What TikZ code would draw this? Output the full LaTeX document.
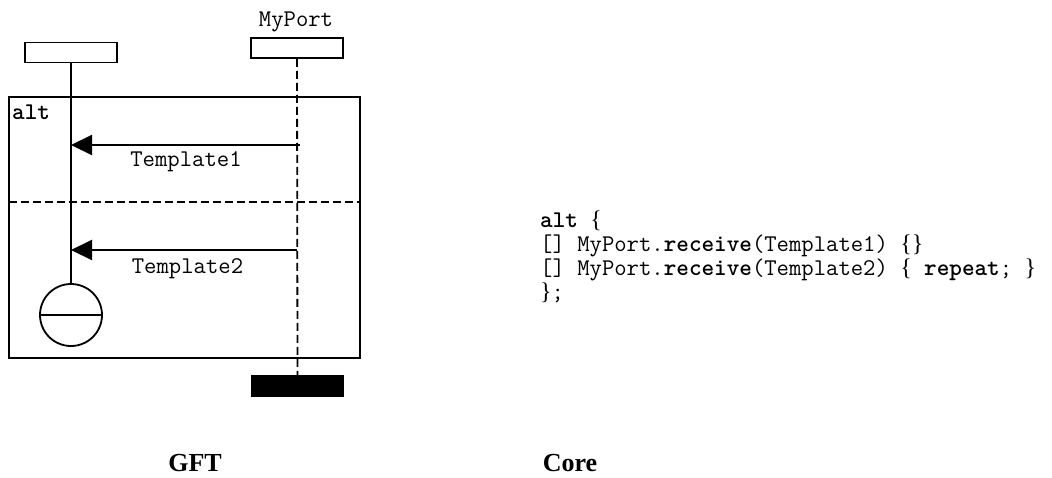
\documentclass[tikz,border=0pt]{standalone}
\usepackage{fontspec}
\setmainfont{Liberation Serif}
\usetikzlibrary{arrows.meta}
\begin{document}
\begin{tikzpicture}[x=1pt,y=-1pt,
  instbox/.style={draw,line width=1.8pt,minimum width=92pt,minimum height=20pt,inner sep=0pt,fill=white},
  stopbox/.style={draw,fill=black,minimum width=92pt,minimum height=21pt,inner sep=0pt},
  lbl/.style={font=\fontsize{24}{27}\selectfont\ttfamily,inner sep=0pt},
  codeline/.style={font=\fontsize{24}{27}\selectfont\ttfamily,inner sep=0pt,anchor=base west},
  msg/.style={line width=2pt,-{Triangle[length=21pt,width=20pt]}},
  lifeline/.style={line width=1.8pt},
  portline/.style={line width=1.8pt,dash pattern=on 8pt off 4pt},
  sepline/.style={line width=2.2pt,dash pattern=on 8pt off 4pt},
  caption/.style={font=\fontsize{26}{30}\selectfont\bfseries,anchor=base,inner sep=0pt}]
\useasboundingbox (0,0) rectangle (1052,477);
% instances
\node[instbox] (inst) at (71,52.5) {};
\node[instbox] (port) at (297,48) {};
\node[lbl] (portname) at (296,22) {MyPort};
\node[stopbox] (stop) at (297.5,385.5) {};
% alt frame
\node[draw,line width=2.2pt,minimum width=351pt,minimum height=261pt,inner sep=0pt] (frame) at (184.5,227.5) {};
\node[lbl,font=\fontsize{24}{27}\selectfont\ttfamily\bfseries,anchor=west] (alt) at (12,112) {alt};
\coordinate (sepL) at (9,202);
\coordinate (sepR) at (360,202);
\draw[sepline] (sepL) -- (sepR);
% repeat symbol
\node[circle,draw,line width=1.8pt,minimum size=62pt,inner sep=0pt] (rep) at (71,315) {};
\draw[line width=1.8pt] (rep.west) -- (rep.east);
% lifelines
\draw[lifeline] (inst.south) -- (rep.north);
\draw[portline] (port.south) -- (stop.north);
% messages
\coordinate (m1s) at (300,145);
\coordinate (m1e) at (71,145);
\coordinate (m2s) at (297,250);
\coordinate (m2e) at (71,250);
\draw[msg] (m1s) -- (m1e);
\draw[msg] (m2s) -- (m2e);
\node[lbl] (t1) at (186,162) {Template1};
\node[lbl] (t2) at (187.5,269) {Template2};
% code
\node[codeline] (c1) at (540,227) {\textbf{alt} {\rmfamily\{}};
\node[codeline] (c2) at (540,251) {[] MyPort.\textbf{receive}(Template1) {\rmfamily\{\}}};
\node[codeline] (c3) at (540,275) {[] MyPort.\textbf{receive}(Template2) {\rmfamily\{} \textbf{repeat}; {\rmfamily\}}};
\node[codeline] (c4) at (540,299) {{\rmfamily\}};};
% captions
\node[caption] (gft) at (195,471) {GFT};
\node[caption] (core) at (570,471) {Core};
\end{tikzpicture}
\end{document}
